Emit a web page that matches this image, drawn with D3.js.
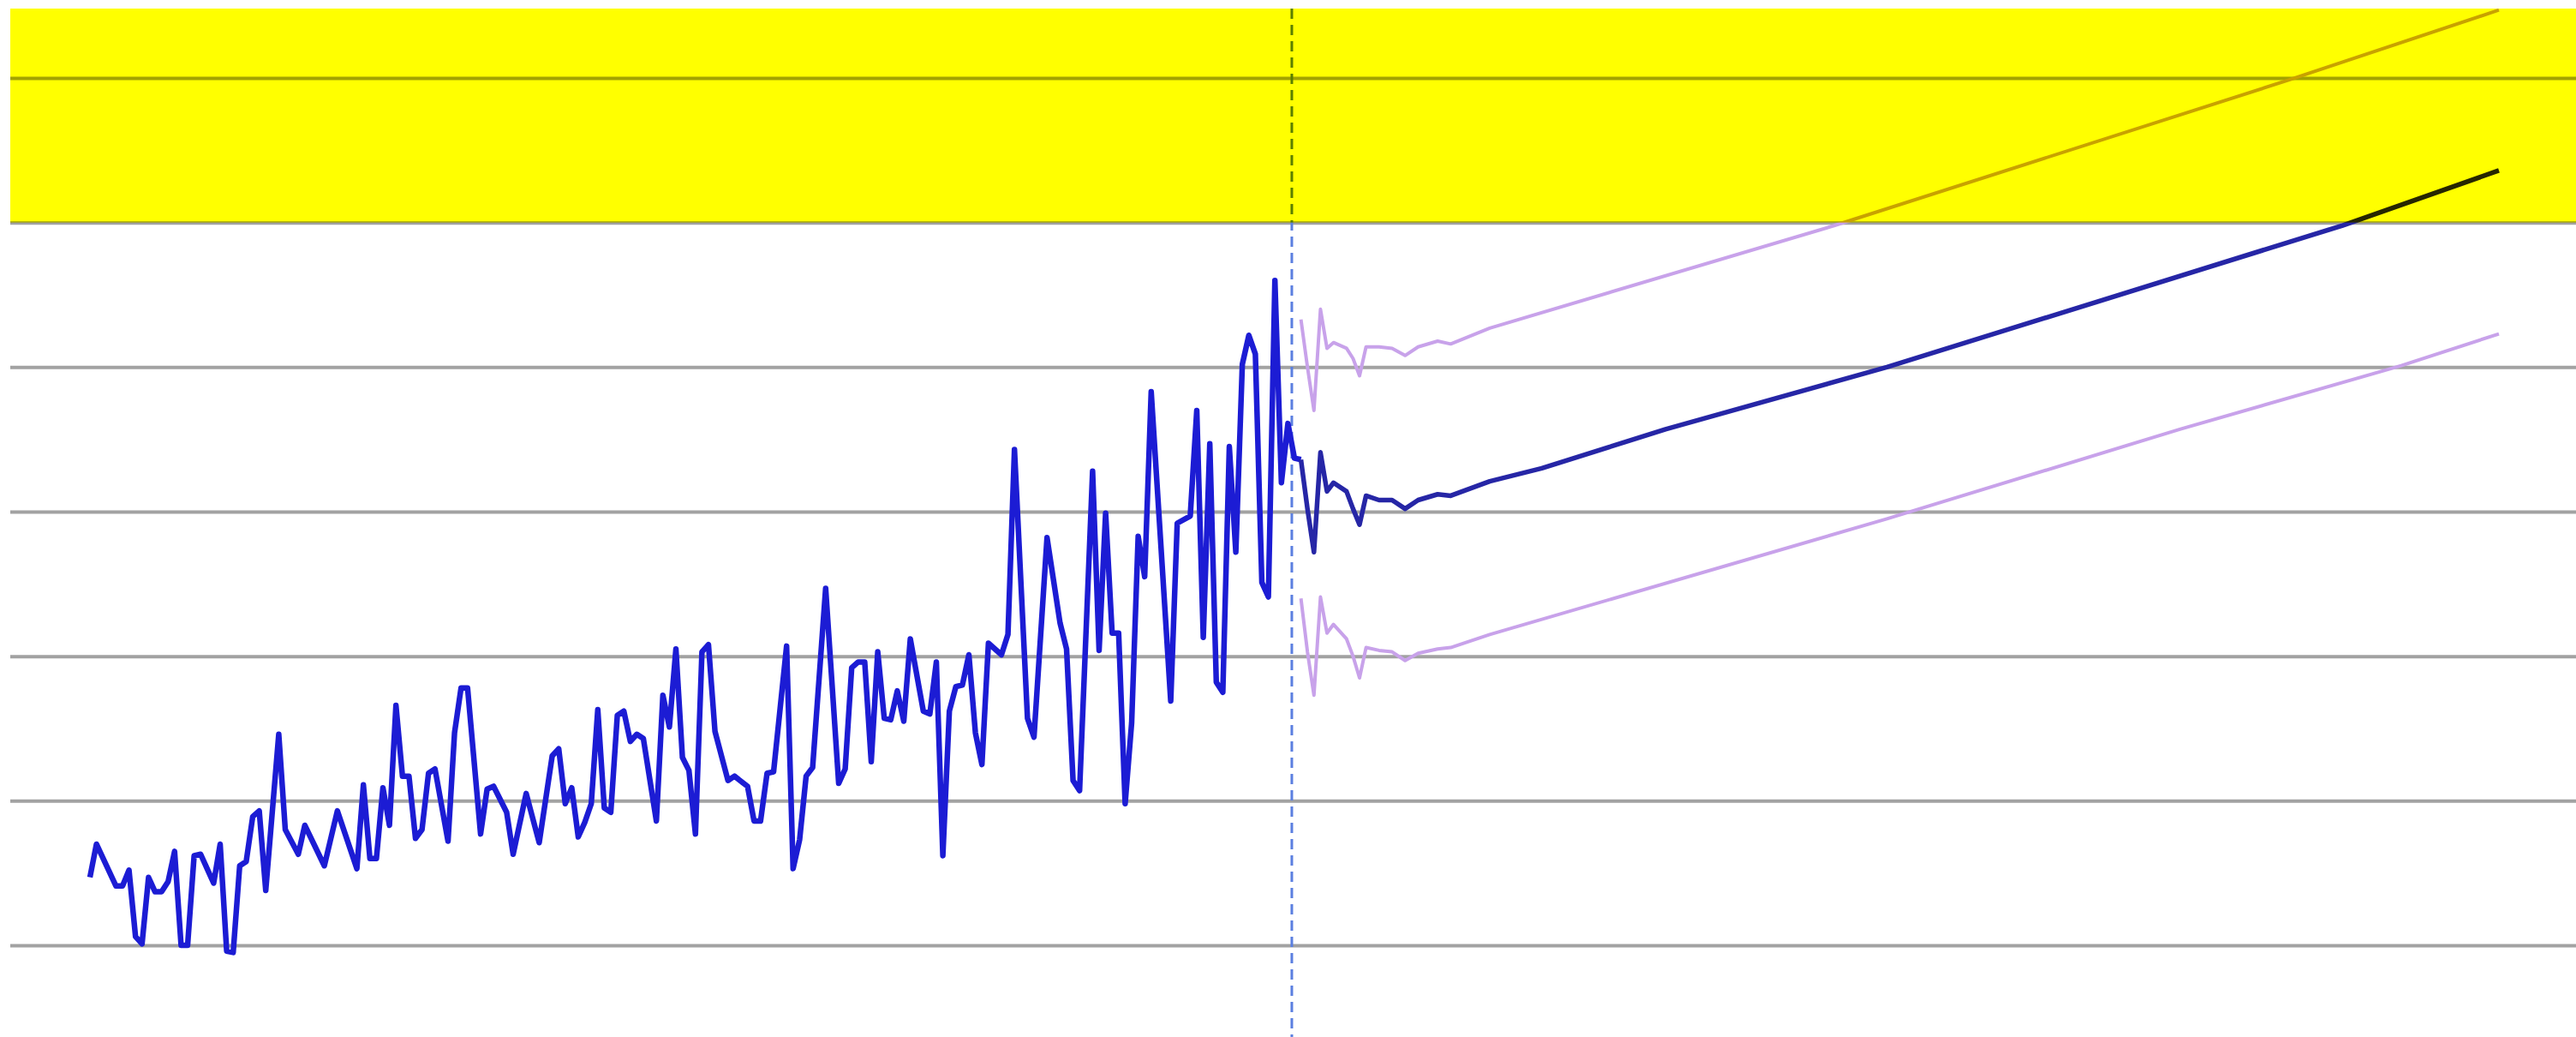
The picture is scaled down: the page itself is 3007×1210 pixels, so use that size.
<!DOCTYPE html>
<html>
<head>
<meta charset="utf-8">
<script src="https://cdn.jsdelivr.net/npm/d3@7"></script>
<style>
  html, body { margin: 0; padding: 0; background: #ffffff; }
  svg { display: block; }
</style>
</head>
<body>
<svg id="chart" width="3007" height="1210"></svg>
<script>
// ---------------- data ----------------
const gridTicks = [0, 10, 20, 30, 40, 50, 60];
const threshold = 50;          // yellow band starts here
const forecastOrigin = 184.6;  // dashed vertical line (time index)

const histT = [0,1,4,5,6,7,8,9,10,11,12,13,14,15,16,17,18,19,20,21,22,23,24,25,26,27,29,30,32,33,36,38,41,42,43,44,45,46,47,48,49,50,51,52,53,55,56,57,58,60,61,62,64,65,67,69,71,72,73,74,75,76,77,78,79,80,81,82,83,84,85,87,88,89,90,91,92,93,94,95,96,98,99,101,102,103,104,105,107,108,109,110,111,113,115,116,117,118,119,120,121,122,123,124,125,126,128,129,130,131,132,133,134,135,136,137,138,140,141,142,144,145,147,149,150,151,152,154,155,156,157,158,159,160,161,162,163,166,167,169,170,171,172,173,174,175,176,177,178,179,180,181,182,183,184,185,186];
const histV = [4.7,7.0,4.1,4.1,5.2,0.6,0.1,4.7,3.7,3.7,4.4,6.5,0.0,0.0,6.2,6.3,5.3,4.3,7.0,-0.4,-0.5,5.5,5.8,8.9,9.3,3.8,14.6,8.0,6.3,8.3,5.5,9.3,5.3,11.1,6.0,6.0,10.9,8.3,16.6,11.7,11.7,7.4,8.0,11.9,12.2,7.2,14.7,17.8,17.8,7.7,10.8,11.0,9.2,6.3,10.5,7.1,13.1,13.6,9.8,10.9,7.5,8.5,9.8,16.3,9.5,9.2,15.9,16.2,14.1,14.6,14.3,8.6,17.3,15.1,20.5,13.0,12.1,7.7,20.3,20.8,14.8,11.4,11.7,11.0,8.6,8.6,11.9,12.0,20.7,5.3,7.3,11.7,12.3,24.7,11.2,12.2,19.2,19.6,19.6,12.7,20.3,15.7,15.6,17.6,15.5,21.2,16.2,16.0,19.6,6.2,16.2,17.9,18.0,20.1,14.7,12.5,20.9,20.1,21.5,34.3,15.7,14.4,28.2,22.3,20.5,11.4,10.7,32.8,20.4,29.9,21.6,21.6,9.8,15.4,28.3,25.5,38.3,16.9,29.2,29.7,37.0,21.3,34.7,18.2,17.5,34.5,27.2,40.2,42.2,40.9,25.1,24.1,46.0,32.0,36.1,33.7,33.6];

const fcT = [186,187,188,189,190,191,193,194,195,196,198,200,202,204,207,209,215,223,242,276,346,370];
const fcV = [33.6,30.2,27.2,34.1,31.4,32.0,31.4,30.2,29.1,31.1,30.8,30.8,30.2,30.8,31.2,31.1,32.1,33.0,35.7,40.0,49.8,53.6];

const upT = [186,187,188,189,190,191,193,194,195,196,198,200,202,204,207,209,215,268,338,370];
const upV = [43.3,40.0,37.0,44.0,41.3,41.7,41.3,40.6,39.4,41.4,41.4,41.3,40.8,41.4,41.8,41.6,42.7,49.8,59.9,64.7];

const loT = [186,187,188,189,190,191,193,194,195,196,198,200,202,204,207,209,215,276,321,355,370];
const loV = [24.0,20.3,17.3,24.1,21.6,22.2,21.2,20.0,18.5,20.6,20.4,20.3,19.7,20.2,20.5,20.6,21.5,29.5,35.7,40.1,42.3];

// ---------------- layout ----------------
const W = 3007, H = 1210;
const plotLeft = 12, plotRight = W, plotTop = 10, plotBottom = H;

const svg = d3.select("#chart");
const x = d3.scaleLinear().domain([0, 370]).range([105, 2917]);
const y = d3.scaleLinear().domain([0, 60]).range([1103, 91]);

svg.append("rect").attr("x", 0).attr("y", 0).attr("width", W).attr("height", H).attr("fill", "#ffffff");

const clip = svg.append("defs").append("clipPath").attr("id", "plotClip");
clip.append("rect").attr("x", plotLeft).attr("y", plotTop)
  .attr("width", plotRight - plotLeft).attr("height", plotBottom - plotTop);

const g = svg.append("g").attr("clip-path", "url(#plotClip)");

// gridlines via axis
const yAxis = d3.axisLeft(y).tickValues(gridTicks).tickSize(-(plotRight - plotLeft)).tickFormat("");
const ga = g.append("g").attr("transform", `translate(${plotLeft},0)`).call(yAxis);
ga.select(".domain").remove();
ga.selectAll(".tick line").attr("stroke", "#a2a2a2").attr("stroke-width", 4);

const line = (T, V) => d3.line().x((d, i) => x(T[i])).y((d, i) => y(V[i]))(V);

// dashed forecast origin
g.append("line")
  .attr("x1", x(forecastOrigin)).attr("x2", x(forecastOrigin))
  .attr("y1", plotTop).attr("y2", plotBottom)
  .attr("stroke", "#5b7fe0").attr("stroke-width", 3)
  .attr("stroke-dasharray", "12,7");

// confidence bounds
[[upT, upV], [loT, loV]].forEach(([T, V]) => {
  g.append("path").attr("d", line(T, V))
    .attr("fill", "none").attr("stroke", "#c8a2ea").attr("stroke-width", 4)
    .attr("stroke-linejoin", "round");
});

// history
g.append("path").attr("d", line(histT, histV))
  .attr("fill", "none").attr("stroke", "#1c1cd4").attr("stroke-width", 6.5)
  .attr("stroke-linejoin", "round");

// forecast
g.append("path").attr("d", line(fcT, fcV))
  .attr("fill", "none").attr("stroke", "#2626a6").attr("stroke-width", 5.5)
  .attr("stroke-linejoin", "round");

// yellow band on top, multiplied
g.append("rect")
  .attr("x", plotLeft).attr("y", plotTop)
  .attr("width", plotRight - plotLeft).attr("height", y(threshold) - plotTop)
  .attr("fill", "#ffff00")
  .style("mix-blend-mode", "multiply");
</script>
</body>
</html>
